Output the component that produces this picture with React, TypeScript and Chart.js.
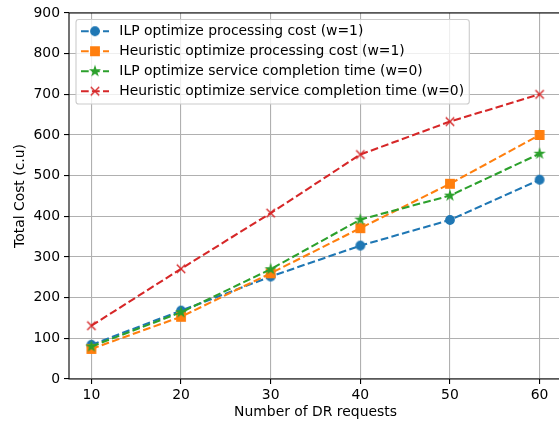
import React, { useEffect, useRef } from 'react';
import { Chart, registerables } from 'chart.js';

Chart.register(...registerables);

// ---------- data ----------
const requests = [10, 20, 30, 40, 50, 60];
const ilpProcessing = [84, 168, 252, 328, 391, 490];
const heuristicProcessing = [74, 153, 260, 371, 480, 600];
const ilpCompletion = [80, 164, 270, 392, 451, 554];
const heuristicCompletion = [131, 271, 408, 552, 633, 700];

const seriesLabels = [
  'ILP optimize processing cost (w=1)',
  'Heuristic optimize processing cost (w=1)',
  'ILP optimize service completion time (w=0)',
  'Heuristic optimize service completion time (w=0)',
];
const seriesColors = ['#1f77b4', '#ff7f0e', '#2ca02c', '#d62728'];
const seriesMarkers = ['circle', 'square', 'star', 'x'];
const seriesValues = [ilpProcessing, heuristicProcessing, ilpCompletion, heuristicCompletion];

const xTicks = [10, 20, 30, 40, 50, 60];
const yTicks = [0, 100, 200, 300, 400, 500, 600, 700, 800, 900];

const xTitle = 'Number of DR requests';
const yTitle = 'Total Cost (c.u)';

// ---------- styling ----------
const FONT = '"DejaVu Sans", sans-serif';
const FS = 13.9;
const LW = 2.08;
const DASH = [7.7, 3.3];
const MS = 4.2;
const MEW = 1.39;

function makeMarker(kind: string, color: string): HTMLCanvasElement {
  const c = document.createElement('canvas');
  const s = 14;
  c.width = s;
  c.height = s;
  const g = c.getContext('2d')!;
  const cx = s / 2;
  const r = MS;
  g.fillStyle = color;
  g.strokeStyle = color;
  g.lineWidth = MEW;
  g.lineJoin = 'miter';
  g.beginPath();
  if (kind === 'circle') {
    g.arc(cx, cx, r, 0, Math.PI * 2);
  } else if (kind === 'square') {
    g.rect(cx - r, cx - r, 2 * r, 2 * r);
  } else if (kind === 'star') {
    for (let i = 0; i < 10; i++) {
      const rad = i % 2 ? r * 0.381966 : r;
      const a = -Math.PI / 2 + (i * Math.PI) / 5;
      const px = cx + rad * Math.cos(a);
      const py = cx + rad * Math.sin(a);
      if (i === 0) g.moveTo(px, py);
      else g.lineTo(px, py);
    }
  } else {
    g.moveTo(cx - r, cx - r);
    g.lineTo(cx + r, cx + r);
    g.moveTo(cx + r, cx - r);
    g.lineTo(cx - r, cx + r);
    g.stroke();
    return c;
  }
  g.closePath();
  g.fill();
  g.stroke();
  return c;
}

const framePlugin = {
  id: 'frame',
  afterDatasetsDraw(chart: any) {
    const { ctx, chartArea } = chart;
    const { left, right, top, bottom } = chartArea;
    ctx.save();
    ctx.strokeStyle = '#000';
    ctx.lineWidth = 1.1;
    ctx.lineCap = 'square';
    ctx.beginPath();
    ctx.moveTo(left, bottom);
    ctx.lineTo(left, top);
    ctx.lineTo(right, top);
    ctx.moveTo(left, bottom);
    ctx.lineTo(right, bottom);
    ctx.stroke();
    ctx.restore();
  },
  afterDraw(chart: any) {
    const { ctx, chartArea } = chart;
    const datasets = chart.data.datasets;
    ctx.save();
    ctx.font = `${FS}px ${FONT}`;
    let maxW = 0;
    datasets.forEach((d: any) => {
      maxW = Math.max(maxW, ctx.measureText(d.label).width);
    });
    const bx = chartArea.left + 7;
    const by = chartArea.top + 6.5;
    const textX = bx + 43.3;
    const bw = textX - bx + maxW + 5.2;
    const bh = 84.5;
    const rr = 2.8;
    ctx.beginPath();
    ctx.moveTo(bx + rr, by);
    ctx.lineTo(bx + bw - rr, by);
    ctx.arcTo(bx + bw, by, bx + bw, by + rr, rr);
    ctx.lineTo(bx + bw, by + bh - rr);
    ctx.arcTo(bx + bw, by + bh, bx + bw - rr, by + bh, rr);
    ctx.lineTo(bx + rr, by + bh);
    ctx.arcTo(bx, by + bh, bx, by + bh - rr, rr);
    ctx.lineTo(bx, by + rr);
    ctx.arcTo(bx, by, bx + rr, by, rr);
    ctx.closePath();
    ctx.fillStyle = 'rgba(255,255,255,0.8)';
    ctx.fill();
    ctx.strokeStyle = '#cccccc';
    ctx.lineWidth = 1.1;
    ctx.stroke();

    datasets.forEach((d: any, i: number) => {
      const cy = by + 11.7 + 20 * i;
      ctx.save();
      ctx.strokeStyle = d.borderColor;
      ctx.lineWidth = LW;
      ctx.setLineDash(DASH);
      ctx.beginPath();
      ctx.moveTo(bx + 5, cy);
      ctx.lineTo(bx + 33, cy);
      ctx.stroke();
      ctx.restore();
      const img = d.pointStyle as HTMLCanvasElement;
      ctx.drawImage(img, bx + 19 - img.width / 2, cy - img.height / 2);
      ctx.fillStyle = '#000';
      ctx.textBaseline = 'middle';
      ctx.textAlign = 'left';
      ctx.fillText(d.label, textX, cy);
    });
    ctx.restore();
  },
};

export default function App() {
  const ref = useRef<HTMLCanvasElement | null>(null);

  useEffect(() => {
    if (!ref.current) return;
    Chart.defaults.font.family = FONT;
    Chart.defaults.font.size = FS;
    Chart.defaults.color = '#000';

    const datasets = seriesLabels.map((label, i) => ({
      label,
      data: requests.map((x, j) => ({ x, y: seriesValues[i][j] })),
      borderColor: seriesColors[i],
      backgroundColor: seriesColors[i],
      borderWidth: LW,
      borderDash: DASH,
      pointStyle: makeMarker(seriesMarkers[i], seriesColors[i]),
      pointRadius: 5,
      tension: 0,
      fill: false,
      order: seriesLabels.length - 1 - i,
    }));

    const chart = new Chart(ref.current, {
      type: 'line',
      data: { datasets },
      plugins: [framePlugin],
      options: {
        animation: false,
        responsive: false,
        devicePixelRatio: 1,
        layout: { autoPadding: false, padding: { top: 13, left: 0, right: 0, bottom: 0 } },
        plugins: { legend: { display: false }, tooltip: { enabled: false } },
        scales: {
          x: {
            type: 'linear',
            min: 7.5,
            max: 62.5,
            afterBuildTicks: (scale: any) => {
              scale.ticks = xTicks.map((v) => ({ value: v }));
            },
            afterFit: (scale: any) => {
              scale.height = 42;
              scale.paddingLeft = 0;
              scale.paddingRight = 0;
            },
            border: { display: false },
            grid: {
              color: '#b0b0b0',
              lineWidth: 1.1,
              tickColor: '#000',
              tickWidth: 1.1,
              tickLength: 5,
            },
            ticks: { padding: 3, color: '#000', font: { size: FS, family: FONT }, maxRotation: 0, autoSkip: false },
            title: {
              display: true,
              text: xTitle,
              color: '#000',
              font: { size: FS, family: FONT },
              padding: { top: 4, bottom: 0 },
            },
          },
          y: {
            type: 'linear',
            min: 0,
            max: 900,
            afterBuildTicks: (scale: any) => {
              scale.ticks = yTicks.map((v) => ({ value: v }));
            },
            afterFit: (scale: any) => {
              scale.width = 69;
              scale.paddingTop = 0;
              scale.paddingBottom = 0;
            },
            border: { display: false },
            grid: {
              color: '#b0b0b0',
              lineWidth: 1.1,
              tickColor: '#000',
              tickWidth: 1.1,
              tickLength: 5,
            },
            ticks: { padding: 4, color: '#000', font: { size: FS, family: FONT }, autoSkip: false },
            title: {
              display: true,
              text: yTitle,
              color: '#000',
              font: { size: FS, family: FONT },
              padding: { top: 11.7, bottom: 0 },
            },
          },
        },
      },
    });
    return () => chart.destroy();
  }, []);

  return (
    <div
      style={{
        position: 'fixed',
        left: 0,
        top: 0,
        width: 559,
        height: 421,
        overflow: 'hidden',
        background: '#fff',
      }}
    >
      <canvas ref={ref} width={562} height={421} style={{ width: 562, height: 421, display: 'block' }} />
    </div>
  );
}
